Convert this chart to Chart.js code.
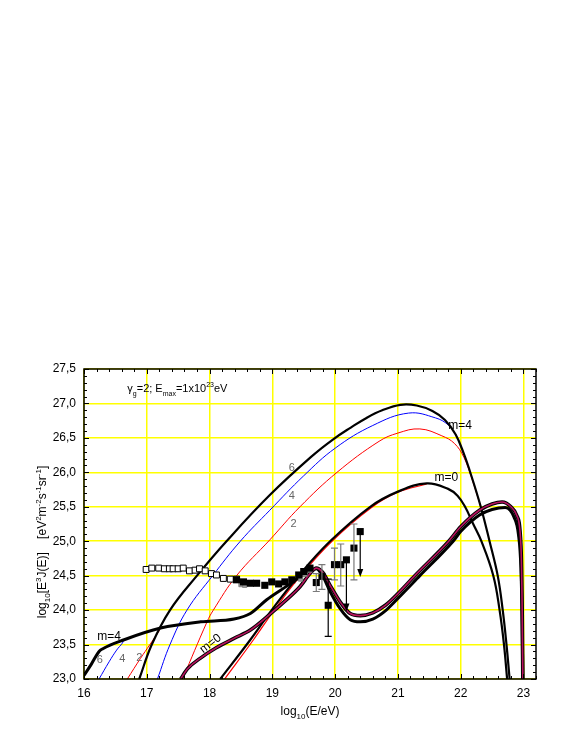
<!DOCTYPE html>
<html><head><meta charset="utf-8">
<script src="https://cdn.jsdelivr.net/npm/chart.js@4"></script>
<style>html,body{margin:0;padding:0;background:#fff;}</style>
</head><body>
<canvas id="c" width="581" height="752"></canvas>
<script>
// ---- axis ticks ----
const xTickValues = [16, 17, 18, 19, 20, 21, 22, 23];
const yTickValues = [23.0, 23.5, 24.0, 24.5, 25.0, 25.5, 26.0, 26.5, 27.0, 27.5];

// ---- m=4 upper group (curves 6, 4, 2) ----
const m4Up6X = [16.88, 17.08, 17.37, 17.8, 18.27, 18.96, 19.65, 19.97, 20.25, 20.5, 20.75, 21.04, 21.3, 21.55, 21.75, 21.92, 22.05, 22.17, 22.32, 22.46, 22.59, 22.67, 22.73, 22.78];
const m4Up6Y = [23.0, 23.5, 24.0, 24.5, 25.0, 25.67, 26.25, 26.48, 26.65, 26.79, 26.9, 26.98, 26.97, 26.89, 26.76, 26.55, 26.27, 25.95, 25.5, 25.0, 24.5, 24.0, 23.5, 23.0];
const m4Up4X = [17.17, 17.37, 17.64, 18.05, 18.49, 18.96, 19.5, 20.0, 20.6, 21.17, 21.6, 21.8, 21.92, 22.05];
const m4Up4Y = [23.0, 23.5, 24.0, 24.5, 25.0, 25.45, 25.95, 26.35, 26.68, 26.86, 26.79, 26.69, 26.55, 26.27];
const m4Up2X = [17.57, 17.96, 18.06, 18.43, 18.96, 19.44, 20.03, 20.7, 21.0, 21.35, 21.7, 21.9, 22.05, 22.17, 22.32];
const m4Up2Y = [23.0, 23.83, 24.0, 24.5, 25.02, 25.5, 26.0, 26.45, 26.57, 26.63, 26.53, 26.42, 26.22, 25.93, 25.5];

// ---- m=0 upper curve (black) and its red companion ----
const m0UpX = [18.17, 18.65, 18.99, 19.42, 19.92, 20.56, 21.0, 21.46, 21.8, 21.95, 22.07, 22.2, 22.33, 22.52, 22.62, 22.69, 22.74];
const m0UpY = [23.0, 23.57, 24.0, 24.5, 25.0, 25.5, 25.72, 25.84, 25.76, 25.66, 25.5, 25.25, 25.0, 24.5, 24.0, 23.5, 23.0];
const m0UpRedX = [18.24, 18.7, 19.03, 19.45, 19.95, 20.58, 21.0, 21.46];
const m0UpRedY = [23.0, 23.57, 24.0, 24.5, 25.0, 25.49, 25.71, 25.83];

// ---- m=4 lower curve (black, dotted) and its low-energy branches 4, 2 ----
const m4LowX = [16.0, 16.12, 16.24, 16.3, 16.64, 17.22, 17.86, 18.39, 18.65, 18.91, 19.2, 19.44, 19.6, 19.7, 19.8, 19.92, 20.08, 20.24, 20.4, 20.6, 20.8, 21.0, 21.35, 21.88, 22.0, 22.3, 22.5, 22.71, 22.85, 22.92, 22.96, 22.98, 22.99];
const m4LowY = [23.05, 23.22, 23.4, 23.44, 23.57, 23.74, 23.83, 23.87, 23.95, 24.15, 24.33, 24.48, 24.58, 24.6, 24.5, 24.27, 24.02, 23.86, 23.83, 23.87, 23.99, 24.17, 24.5, 25.0, 25.14, 25.38, 25.46, 25.49, 25.35, 25.1, 24.6, 23.8, 23.0];
const m4Low4X = [16.24, 16.4, 16.52, 16.61, 16.64];
const m4Low4Y = [23.0, 23.25, 23.42, 23.52, 23.57];
const m4Low2X = [16.69, 16.9, 17.05, 17.19, 17.22];
const m4Low2Y = [23.0, 23.3, 23.5, 23.69, 23.74];

// ---- m=0 lower curve (magenta, dotted) ----
const m0LowX = [17.54, 17.65, 17.85, 18.1, 18.39, 18.65, 19.0, 19.2, 19.44, 19.6, 19.7, 19.8, 19.92, 20.08, 20.24, 20.4, 20.6, 20.8, 21.0, 21.27, 21.81, 22.0, 22.3, 22.5, 22.66, 22.8, 22.89, 22.96, 22.98, 22.99];
const m0LowY = [23.0, 23.15, 23.3, 23.45, 23.59, 23.71, 23.97, 24.13, 24.34, 24.53, 24.61, 24.55, 24.36, 24.12, 23.95, 23.92, 23.96, 24.07, 24.24, 24.5, 25.0, 25.21, 25.45, 25.54, 25.57, 25.5, 25.38, 24.94, 24.0, 23.0];

// ---- measured data ----
const openX = [16.99, 17.08, 17.19, 17.28, 17.36, 17.42, 17.5, 17.58, 17.68, 17.77, 17.84, 17.93, 18.03, 18.11, 18.22, 18.33, 18.43];
const openY = [24.59, 24.61, 24.61, 24.6, 24.6, 24.6, 24.6, 24.61, 24.57, 24.58, 24.6, 24.57, 24.53, 24.51, 24.46, 24.45, 24.45];
const filledX = [18.43, 18.54, 18.65, 18.75, 18.88, 18.99, 19.1, 19.2, 19.31, 19.42, 19.5, 19.6, 19.7, 19.79, 19.89, 19.99, 20.09, 20.18, 20.3, 20.4];
const filledY = [24.44, 24.41, 24.39, 24.39, 24.36, 24.41, 24.38, 24.41, 24.44, 24.51, 24.56, 24.61, 24.4, 24.49, 24.07, 24.66, 24.66, 24.73, 24.9, 25.14];
const greyX = [18.5, 18.56, 19.45, 19.52, 19.6];
const greyY = [24.37, 24.36, 24.45, 24.52, 24.58];
const greyErrX = [19.7, 19.79, 19.99, 20.09, 20.3];
const greyErrLo = [24.27, 24.3, 24.44, 24.35, 24.44];
const greyErrHi = [24.53, 24.66, 24.9, 24.96, 25.25];
const blackErrX = [19.89];
const blackErrLo = [23.62];
const blackErrHi = [24.45];
const arrowX = [20.18, 20.4];
const arrowFrom = [24.73, 25.14];
const arrowTo = [23.98, 24.48];

function pts(xs, ys) { return xs.map((x, i) => ({ x: x, y: ys[i] })); }

function curve(xs, ys, color, width, order, mono) {
  const d = { type: 'line', data: pts(xs, ys), borderColor: color, borderWidth: width, pointRadius: 0,
    fill: false, order: order };
  if (mono) d.cubicInterpolationMode = 'monotone'; else d.tension = 0.4;
  return d;
}
function marks(xs, ys, style) {
  return Object.assign({ type: 'line', data: pts(xs, ys), showLine: false, pointStyle: 'rect' }, style);
}

const FONT = '"Liberation Sans", Arial, sans-serif';

function richText(ctx, runs, x, y, size, align) {
  const sub = Math.round(size * 0.68);
  let w = 0;
  runs.forEach(r => {
    ctx.font = (r.s ? sub : size) + 'px ' + FONT;
    r.w = ctx.measureText(r.t).width;
    w += r.w;
  });
  let cx = align === 'center' ? x - w / 2 : x;
  ctx.textAlign = 'left';
  runs.forEach(r => {
    ctx.font = (r.s ? sub : size) + 'px ' + FONT;
    let dy = 0;
    if (r.s === 'sub') dy = size * 0.3;
    if (r.s === 'sup') dy = -size * 0.45;
    ctx.fillText(r.t, cx, y + dy);
    cx += r.w;
  });
}

const decorPlugin = {
  id: 'decor',
  afterDatasetsDraw(chart) {
    const ctx = chart.ctx, xs = chart.scales.x, ys = chart.scales.y;
    ctx.save();
    function vbar(xv, lo, hi, col) {
      const px = xs.getPixelForValue(xv), p1 = ys.getPixelForValue(lo), p2 = ys.getPixelForValue(hi);
      ctx.strokeStyle = col; ctx.lineWidth = 1.2;
      ctx.beginPath();
      ctx.moveTo(px, p1); ctx.lineTo(px, p2);
      ctx.moveTo(px - 3.5, p1); ctx.lineTo(px + 3.5, p1);
      ctx.moveTo(px - 3.5, p2); ctx.lineTo(px + 3.5, p2);
      ctx.stroke();
    }
    greyErrX.forEach((v, i) => vbar(v, greyErrLo[i], greyErrHi[i], '#7a7a7a'));
    blackErrX.forEach((v, i) => vbar(v, blackErrLo[i], blackErrHi[i], '#000'));
    arrowX.forEach((v, i) => {
      const px = xs.getPixelForValue(v), p1 = ys.getPixelForValue(arrowFrom[i]), p2 = ys.getPixelForValue(arrowTo[i]);
      ctx.strokeStyle = '#000'; ctx.fillStyle = '#000'; ctx.lineWidth = 1.2;
      ctx.beginPath(); ctx.moveTo(px, p1); ctx.lineTo(px, p2 - 6); ctx.stroke();
      ctx.beginPath(); ctx.moveTo(px - 3, p2 - 8); ctx.lineTo(px + 3, p2 - 8); ctx.lineTo(px, p2); ctx.closePath(); ctx.fill();
    });
    ctx.restore();
  },
  afterDraw(chart) {
    const ctx = chart.ctx, xs = chart.scales.x, ys = chart.scales.y, a = chart.chartArea;
    ctx.save();
    ctx.strokeStyle = '#000'; ctx.lineWidth = 1.5;
    ctx.strokeRect(a.left, a.top, a.right - a.left, a.bottom - a.top);
    ctx.lineWidth = 1;
    ctx.beginPath();
    for (let i = 0; i <= 36; i++) {
      const v = 16 + i * 0.2;
      const px = Math.round(xs.getPixelForValue(v)) + 0.5;
      const len = (i % 5 === 0) ? 5 : 3;
      ctx.moveTo(px, a.bottom); ctx.lineTo(px, a.bottom - len);
      ctx.moveTo(px, a.top); ctx.lineTo(px, a.top + len);
    }
    for (let i = 0; i <= 45; i++) {
      const v = 23 + i * 0.1;
      const py = Math.round(ys.getPixelForValue(v)) + 0.5;
      const len = (i % 5 === 0) ? 5 : 3;
      ctx.moveTo(a.left, py); ctx.lineTo(a.left + len, py);
      ctx.moveTo(a.right, py); ctx.lineTo(a.right - len, py);
    }
    ctx.stroke();

    ctx.fillStyle = '#000';
    ctx.textBaseline = 'alphabetic';
    const P = (x, y) => [xs.getPixelForValue(x), ys.getPixelForValue(y)];
    let p;
    p = P(16.69, 27.22);
    richText(ctx, [{t:'γ'},{t:'g',s:'sub'},{t:'=2; E'},{t:'max',s:'sub'},{t:'=1x10'},{t:'23',s:'sup'},{t:'eV'}], p[0], p[1] + 4, 11, 'left');
    p = P(21.99, 26.69); richText(ctx, [{t:'m=4'}], p[0], p[1] + 4, 12, 'center');
    p = P(21.77, 25.93); richText(ctx, [{t:'m=0'}], p[0], p[1] + 4, 12, 'center');
    p = P(16.40, 23.62); richText(ctx, [{t:'m=4'}], p[0], p[1] + 4, 12, 'center');
    ctx.fillStyle = '#666';
    [[19.31, 26.08, '6'], [19.31, 25.67, '4'], [19.34, 25.26, '2'], [16.25, 23.29, '6'], [16.61, 23.30, '4'], [16.88, 23.32, '2']].forEach(l => {
      p = P(l[0], l[1]); richText(ctx, [{t:l[2]}], p[0], p[1] + 4, 11, 'center');
    });
    ctx.fillStyle = '#000';
    p = P(18.01, 23.52);
    ctx.save(); ctx.translate(p[0], p[1]); ctx.rotate(-38 * Math.PI / 180);
    richText(ctx, [{t:'m=0'}], 0, 4, 12, 'center');
    ctx.restore();

    richText(ctx, [{t:'log'},{t:'10',s:'sub'},{t:'(E/eV)'}], (a.left + a.right) / 2, 715, 12, 'center');
    ctx.save(); ctx.translate(46, 542); ctx.rotate(-Math.PI / 2);
    richText(ctx, [{t:'log'},{t:'10',s:'sub'},{t:'[E'},{t:'3',s:'sup'},{t:'J(E)]    [eV'},{t:'2',s:'sup'},{t:'m'},{t:'-2',s:'sup'},{t:'s'},{t:'-1',s:'sup'},{t:'sr'},{t:'-1',s:'sup'},{t:']'}], 0, 0, 12, 'center');
    ctx.restore();
    ctx.restore();
  }
};

const MAG = '#b8125e';
const datasets = [
  marks(filledX, filledY, { pointRadius: 5, backgroundColor: '#000', borderColor: '#000', borderWidth: 0, order: 0 }),
  marks(openX, openY, { pointRadius: 4.2, backgroundColor: '#fff', borderColor: '#000', borderWidth: 1, order: 0 }),
  marks(greyX, greyY, { pointRadius: 3, backgroundColor: '#9a9a9a', borderColor: '#777', borderWidth: 0.8, order: 0 }),
  curve(m0LowX, m0LowY, MAG, 1.6, 1, true),
  curve(m0LowX, m0LowY, '#000', 3.6, 2, true),
  curve(m4LowX, m4LowY, '#000', 3, 2, true),
  curve(m4Up6X, m4Up6Y, '#000', 2.2, 3, false),
  curve(m0UpX, m0UpY, '#000', 2.2, 3, false),
  curve(m4Up4X, m4Up4Y, '#0000ff', 1, 4, false),
  curve(m4Up2X, m4Up2Y, '#ff0000', 1, 4, false),
  curve(m0UpRedX, m0UpRedY, '#ff0000', 1.2, 4, false),
  curve(m4Low4X, m4Low4Y, '#0000ff', 1, 4, false),
  curve(m4Low2X, m4Low2Y, '#ff0000', 1, 4, false)
];

new Chart(document.getElementById('c'), {
  type: 'line',
  data: { datasets: datasets },
  plugins: [decorPlugin],
  options: {
    responsive: false,
    animation: false,
    devicePixelRatio: 1,
    layout: { padding: { left: 0, top: 369, right: 45, bottom: 0 } },
    plugins: { legend: { display: false }, tooltip: { enabled: false } },
    scales: {
      x: {
        type: 'linear', min: 16, max: 23.2,
        afterFit(s) { s.height = 73; },
        afterBuildTicks(s) { s.ticks = xTickValues.map(v => ({ value: v })); },
        ticks: { padding: 7, color: '#000', font: { family: FONT, size: 12 }, callback: v => String(v) },
        grid: { color: '#ffff00', lineWidth: 1.5, drawTicks: false },
        border: { display: false }
      },
      y: {
        type: 'linear', min: 23, max: 27.5,
        afterFit(s) { s.width = 84; },
        afterBuildTicks(s) { s.ticks = yTickValues.map(v => ({ value: v })); },
        ticks: { padding: 8, color: '#000', font: { family: FONT, size: 12 },
          callback: v => Number(v).toFixed(1).replace('.', ',') },
        grid: { color: '#ffff00', lineWidth: 1.5, drawTicks: false },
        border: { display: false }
      }
    }
  }
});
</script>
</body></html>
